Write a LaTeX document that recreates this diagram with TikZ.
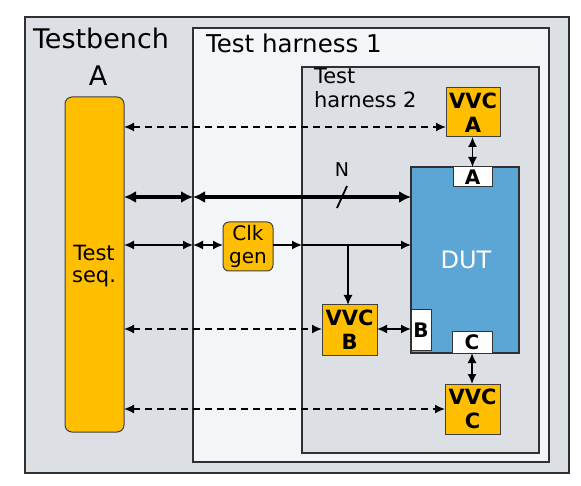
\documentclass[tikz,border=0pt]{standalone}
\usepackage{fontspec}
\setmainfont{DejaVu Sans}
\usetikzlibrary{arrows.meta,calc}
\definecolor{tbgrey}{HTML}{DCDFE3}
\definecolor{hlight}{HTML}{F3F6F9}
\definecolor{vvcyel}{HTML}{FFBF00}
\definecolor{dutblue}{HTML}{5CA6D6}
\definecolor{framec}{HTML}{303030}
\begin{document}
\begin{tikzpicture}[x=1pt,y=-1pt,
  box/.style={draw=framec, line width=1.3pt, inner sep=0pt, outer sep=0pt, anchor=north west},
  yelbox/.style={box, fill=vvcyel, draw=black!75, line width=1pt},
  vvc/.style={yelbox, align=center, font=\fontsize{21}{24}\selectfont\bfseries},
  port/.style={box, fill=white, draw=black!80, line width=1pt, font=\fontsize{20}{22}\selectfont\bfseries},
  lbl/.style={inner sep=0pt, outer sep=0pt},
  conn/.style={line width=1.6pt, {Latex[length=10pt,width=9pt]}-{Latex[length=10pt,width=9pt]}},
  conn1/.style={line width=1.6pt, -{Latex[length=10pt,width=9pt]}},
  dconn/.style={conn, dash pattern=on 7pt off 5pt},
  bus/.style={line width=3.6pt, {Latex[length=12pt,width=12pt]}-{Latex[length=12pt,width=12pt]}},
]
\useasboundingbox (0,0) rectangle (581,486);
\fill[white] (0,0) rectangle (581,486);

% frames
\node[box, fill=tbgrey, minimum width=544pt, minimum height=456pt] (tb) at (25,17) {};
\node[box, fill=hlight, minimum width=356pt, minimum height=434pt] (h1) at (193,28) {};
\node[box, fill=tbgrey, minimum width=237pt, minimum height=386pt] (h2) at (302,67) {};

% titles
\node[lbl, anchor=base west, font=\fontsize{27}{32}\selectfont] (tbt) at (33,49) {Testbench};
\node[lbl, anchor=base, font=\fontsize{27}{32}\selectfont] (tba) at (98,86) {A};
\node[lbl, anchor=base west, font=\fontsize{24.5}{28}\selectfont] (h1t) at (206,53) {Test harness 1};
\node[lbl, anchor=north west, align=left, font=\fontsize{21}{24}\selectfont] (h2t) at (314,68) {Test\\harness 2};

% blocks
\node[yelbox, rounded corners=7pt, minimum width=59pt, minimum height=335pt] (seq) at (65,97) {};
\node[lbl, align=center, font=\fontsize{21}{22}\selectfont] (seqt) at (94,266) {Test\\seq.};
\node[yelbox, rounded corners=6pt, minimum width=50pt, minimum height=49pt, align=center,
      font=\fontsize{20}{23}\selectfont] (clk) at (223,222) {Clk\\gen};
\node[box, fill=dutblue, minimum width=108pt, minimum height=186pt] (dut) at (411,167) {};
\node[lbl, text=white, font=\fontsize{24}{28}\selectfont] (dutt) at (466,260) {DUT};
\node[port, minimum width=39pt, minimum height=20pt] (pA) at (453,167) {A};
\node[port, minimum width=40pt, minimum height=21pt] (pC) at (452,332) {C};
\node[port, minimum width=20pt, minimum height=40pt] (pB) at (411,310) {B};
\node[vvc, minimum width=54pt, minimum height=49pt] (vA) at (446,88) {VVC\\A};
\node[vvc, minimum width=55pt, minimum height=50pt] (vB) at (322,305) {VVC\\B};
\node[vvc, minimum width=55pt, minimum height=50pt] (vC) at (445,384) {VVC\\C};

% levels
\coordinate (yA) at (0,127);
\coordinate (yBus) at (0,197);
\coordinate (yClk) at (0,245);
\coordinate (yB) at (0,329);
\coordinate (yC) at (0,409);
\coordinate (brk) at (348,245);

% dashed links
\draw[dconn] (seq.east |- yA) -- (vA.west |- yA);
\draw[dconn] (seq.east |- yB) -- (vB.west |- yB);
\draw[dconn] (seq.east |- yC) -- (vC.west |- yC);

% bus
\draw[bus] (seq.east |- yBus) -- (h1.west |- yBus);
\draw[bus] (h1.west |- yBus) -- (dut.west |- yBus);
\node[lbl, anchor=base, font=\fontsize{19}{22}\selectfont] (N) at (342,177) {N};
\draw[line width=1.8pt] (337,208) -- (347,186);

% clock
\draw[conn] (seq.east |- yClk) -- (h1.west |- yClk);
\draw[conn] (h1.west |- yClk) -- (clk.west |- yClk);
\draw[conn1] (clk.east |- yClk) -- (h2.west |- yClk);
\draw[conn1] (h2.west |- yClk) -- (dut.west |- yClk);
\draw[conn1] (brk) -- (vB.north -| brk);

% VVC to ports
\draw[conn] (vB.east |- yB) -- (pB.west |- yB);
\draw[conn] (vA.south -| pA.north) -- (pA.north);
\draw[conn] (pC.south) -- (vC.north -| pC.south);
\end{tikzpicture}
\end{document}
